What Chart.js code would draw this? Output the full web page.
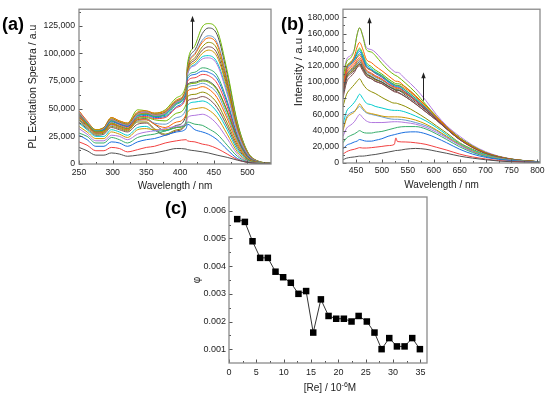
<!DOCTYPE html>
<html><head><meta charset="utf-8">
<script src="https://cdn.jsdelivr.net/npm/chart.js@4.4.1/dist/chart.umd.min.js"></script>
<style>
html,body{margin:0;padding:0;background:#fff;width:550px;height:398px;overflow:hidden;font-family:"Liberation Sans",Arial,sans-serif;}
canvas{position:absolute;left:0;top:0;}
.lbl{position:absolute;font-weight:bold;font-size:18px;line-height:20px;color:#000;}
#cx{position:absolute;left:270px;top:382px;width:120px;font-size:10px;line-height:12px;text-align:center;color:#222;}
#cx sup{font-size:7px;line-height:0;vertical-align:4px;}
#by{position:absolute;left:238px;top:65px;width:120px;font-size:11.5px;line-height:14px;text-align:center;color:#222;transform:rotate(-90deg);transform-origin:60px 7px;}
</style></head><body>
<canvas id="ca" width="550" height="398"></canvas>
<canvas id="cb" width="550" height="398"></canvas>
<canvas id="cc" width="550" height="398"></canvas>
<div class="lbl" style="left:2px;top:14px">(a)</div>
<div class="lbl" style="left:281px;top:14px">(b)</div>
<div class="lbl" style="left:165px;top:198px">(c)</div>
<div id="by">Intensity / a.u</div>
<div id="cx">[Re] / 10<sup>-6</sup>M</div>
<script>
const FONT = "'Liberation Sans', Arial, sans-serif";
const PALETTE = ['#515151','#F14040','#1A6FDF','#37AD6B','#B177DE','#CC9900','#00CBCC','#7D4E4E','#8E8E00','#FB6501','#6699CC','#6FB802'];

// ---------- Panel (a): PL excitation spectra (values in thousands, a.u.) ----------
const A_WAVELENGTH = [250, 262, 275, 287, 298, 310, 322, 337, 350, 362, 378, 395, 409, 411, 422, 433, 442, 455, 470, 485, 500, 515, 535];
const A_SPECTRA = [
  [15, 12, 8, 8, 10, 9, 7, 8, 9, 10, 12, 14, 13.5, 13, 12, 11, 10, 8, 6, 3.5, 1.5, 0.5, 0.3],
  [20, 17, 12, 12, 15, 14, 11, 13, 15, 16, 19, 21, 22, 21, 20, 18, 17, 14, 9, 4, 1.5, 0.5, 0.3],
  [26, 22, 16, 16, 20, 19, 16, 20, 22, 23, 26, 29, 32, 36, 31, 29, 27, 22, 13, 5, 1.5, 0.5, 0.3],
  [28, 25, 19, 19, 24, 22, 19, 24, 26, 27, 30, 33, 35, 38, 36, 35, 32, 27, 17, 7, 2, 0.7, 0.3],
  [32, 27, 21, 21, 26, 25, 22, 27, 29, 30, 32, 34, 36, 42, 44, 45, 43, 36, 23, 9, 2.5, 0.8, 0.3],
  [34, 29, 23, 23, 29, 27, 24, 31, 32, 31, 31, 33, 37, 47, 50, 51, 49, 42, 27, 11, 3, 1, 0.3],
  [37, 31, 25, 25, 31, 29, 26, 33, 34, 30, 30, 33, 38, 53, 56, 57, 55, 47, 31, 13, 3.5, 1, 0.3],
  [38, 32, 26, 27, 33, 31, 29, 36, 37, 31, 26, 30, 37, 57, 59, 61, 59, 51, 34, 15, 4, 1.2, 0.4],
  [40, 33, 27, 28, 34, 32, 30, 38, 38, 32, 27, 31, 38, 61, 63, 65, 63, 55, 37, 17, 4.5, 1.3, 0.4],
  [42, 35, 28, 29, 36, 33, 31, 40, 40, 36, 33, 38, 45, 66, 68, 70, 68, 60, 41, 19, 5, 1.4, 0.4],
  [40, 34, 28, 29, 35, 33, 31, 39, 40, 37, 36, 42, 50, 69, 71, 73, 71, 64, 44, 21, 5.5, 1.5, 0.4],
  [42, 36, 29, 30, 37, 34, 32, 41, 42, 40, 39, 46, 54, 71, 73, 75, 74, 67, 47, 22, 6, 1.6, 0.4],
  [40, 35, 28, 29, 36, 34, 32, 40, 41, 36, 30, 35, 44, 72, 74, 76, 75, 68, 48, 23, 6.5, 1.7, 0.4],
  [44, 36, 29, 30, 37, 35, 33, 42, 43, 41, 42, 51, 61, 75, 78, 81, 80, 73, 52, 24, 7, 1.8, 0.4],
  [42, 36, 29, 31, 38, 36, 34, 42, 44, 42, 43, 52, 63, 77, 81, 84, 83, 77, 55, 25, 7.5, 1.9, 0.5],
  [45, 37, 30, 31, 39, 36, 34, 43, 45, 43, 44, 54, 65, 79, 83, 87, 86, 80, 57, 26, 8, 2, 0.5],
  [47, 38, 30, 32, 40, 37, 35, 45, 47, 44, 46, 56, 66, 81, 89, 95, 96, 90, 63, 29, 9, 2.2, 0.5],
  [46, 38, 31, 32, 40, 37, 35, 45, 46, 44, 46, 56, 67, 82, 92, 100, 103, 97, 68, 31, 9.5, 2.3, 0.6],
  [44, 37, 30, 31, 39, 36, 34, 44, 45, 43, 45, 55, 66, 81, 90, 97, 98, 92, 65, 30, 9, 2.2, 0.5],
  [45, 37, 30, 32, 40, 37, 35, 45, 46, 44, 46, 56, 67, 83, 94, 103, 106, 100, 70, 32, 9.8, 2.4, 0.6],
  [46, 38, 31, 33, 41, 38, 36, 46, 47, 45, 47, 57, 68, 84, 96, 106, 110, 104, 73, 33, 10, 2.5, 0.6],
  [48, 39, 31, 33, 42, 39, 37, 47, 48, 46, 48, 58, 69, 85, 99, 110, 114, 108, 75, 34, 10.5, 2.6, 0.6],
  [45, 37, 30, 32, 40, 38, 36, 46, 47, 45, 47, 57, 68, 86, 100, 112, 116, 110, 77, 35, 10.7, 2.6, 0.6],
  [48, 38, 31, 33, 42, 39, 37, 49, 48, 46, 49, 60, 72, 90, 107, 124, 127, 121, 84, 38, 11.5, 2.8, 0.7],
  [43, 36, 29, 31, 39, 37, 35, 44, 45, 43, 45, 55, 66, 88, 103, 118, 123, 117, 81, 37, 11, 2.7, 0.7]
];
const A_XTICKS = [250, 300, 350, 400, 450, 500];
const A_XMINOR = [275, 325, 375, 425, 475, 525];
const A_YTICKS = [0, 25, 50, 75, 100, 125];
const A_YMINOR = [12.5, 37.5, 62.5, 87.5, 112.5, 137.5];
const A_YLABELS = ['0', '25,000', '50,000', '75,000', '100,000', '125,000'];

// ---------- Panel (b): emission spectra (values in thousands, a.u.) ----------
const B_WAVELENGTH = [425, 432, 440, 447, 452, 457, 463, 470, 480, 487, 500, 512, 524, 527, 530, 545, 565, 585, 605, 625, 650, 675, 700, 725, 750, 775, 805];
const B_SPECTRA = [
  [4, 6, 7, 7.5, 8, 8.5, 8.5, 9, 10, 10.5, 12, 13.5, 15, 15.5, 15.5, 17, 18, 17, 14.5, 12, 8.5, 6, 4, 2.5, 1.5, 1, 0.5],
  [11, 14, 16, 17, 18, 19, 18.5, 18.5, 19, 19.5, 20.5, 21.5, 23, 31, 26.5, 26, 25, 23, 19.5, 16, 11, 7.5, 5, 3, 2, 1.2, 0.6],
  [17, 22, 24, 26, 27, 29, 28, 27, 27, 28, 30, 33, 35, 35.5, 36, 38, 38.5, 36, 31, 25, 17, 11, 7, 4.5, 2.8, 1.6, 0.8],
  [25, 31, 34, 36, 38, 40, 38, 37, 37, 38, 39, 41, 43, 43.5, 44, 45, 45, 42, 36, 29, 20, 13, 8, 5, 3, 1.8, 0.9],
  [33, 43, 47, 51, 56, 60, 56, 52, 50, 50, 50, 50.5, 51, 51, 51, 50, 48, 44, 38, 31, 22, 14, 8.5, 5.5, 3.3, 2, 1],
  [40, 55, 60, 63, 68, 73, 68, 63, 61, 60, 58, 57, 57, 57, 57, 56, 53, 48, 41, 33, 23, 15, 9, 6, 3.5, 2.1, 1],
  [48, 64, 70, 75, 80, 85, 80, 74, 72, 70, 68, 66, 65, 65, 65, 63, 58, 52, 44, 35, 24, 16, 10, 6.2, 3.7, 2.2, 1.1],
  [80, 100, 107, 112, 118, 122, 116, 108, 104, 101, 98, 93, 89, 88.5, 88, 82, 73, 63, 53, 42, 29, 19, 12, 7.5, 4.5, 2.7, 1.3],
  [70, 85, 92, 97, 101, 104, 98, 92, 88, 86, 81, 77, 74, 74, 73.5, 70, 63, 55, 46, 37, 25, 17, 10.5, 6.5, 4, 2.4, 1.2],
  [95, 118, 124, 132, 143, 149, 141, 128, 124, 120, 114, 108, 102, 101, 101, 94, 83, 70, 57, 44, 30, 20, 12.5, 7.8, 4.7, 2.8, 1.4],
  [42, 57, 62, 64, 67, 70, 66, 62, 60, 59, 57, 55, 54, 54, 54, 53, 50, 46, 40, 32, 22, 14.5, 9, 5.8, 3.4, 2, 1],
  [105, 125, 130, 140, 158, 167, 157, 140, 137, 133, 123, 115, 109, 108, 107, 99, 87, 72, 57, 44, 31, 21, 13, 8, 4.8, 2.9, 1.5],
  [88, 108, 114, 118, 122, 125, 119, 111, 107, 104, 100, 95, 91, 90, 90, 84, 75, 65, 54, 42, 29, 19.5, 12, 7.5, 4.5, 2.7, 1.3],
  [92, 112, 118, 122, 127, 130, 124, 115, 111, 108, 104, 98, 94, 93, 93, 87, 77, 66, 55, 43, 30, 20, 12.3, 7.7, 4.6, 2.8, 1.4],
  [95, 116, 122, 128, 134, 138, 131, 120, 115, 111, 106, 100, 95, 94, 94, 88, 78, 67, 55, 43, 30, 20, 12.4, 7.7, 4.6, 2.8, 1.4],
  [96, 117, 123, 127, 131, 135, 129, 119, 115, 112, 108, 102, 97, 96, 96, 90, 80, 68, 56, 44, 30.5, 20.2, 12.6, 7.8, 4.7, 2.8, 1.4],
  [108, 128, 133, 141, 158, 167, 158, 143, 140, 137, 128, 120, 113, 112, 112, 104, 92, 77, 60, 46, 33, 22, 14, 8.5, 5, 3, 1.6],
  [90, 110, 116, 120, 125, 128, 122, 114, 110, 107, 103, 98, 93, 92, 92, 88, 78, 67, 55, 43, 30, 20, 12.4, 7.7, 4.6, 2.8, 1.4],
  [97, 118, 124, 129, 136, 140, 133, 122, 117, 113, 108, 101, 96, 95, 95, 90, 80, 68, 56, 44, 30.5, 20.2, 12.6, 7.8, 4.7, 2.8, 1.4],
  [84, 104, 110, 114, 118, 120, 114, 107, 104, 101, 98, 93, 88, 87.5, 87, 82, 73, 63, 53, 42, 29, 19.2, 12, 7.4, 4.4, 2.7, 1.3],
  [86, 106, 112, 116, 120, 122, 117, 110, 106, 103, 100, 95, 91, 90, 90, 86, 77, 66, 55, 43, 30, 19.8, 12.2, 7.6, 4.5, 2.7, 1.3],
  [94, 114, 120, 125, 130, 133, 127, 118, 114, 111, 107, 101, 97, 96, 96, 92, 82, 70, 57, 45, 31, 20.5, 12.8, 7.9, 4.7, 2.8, 1.4],
  [89, 109, 115, 119, 124, 127, 121, 113, 109, 106, 102, 97, 92, 91, 91, 86, 77, 66, 55, 43, 30, 19.8, 12.3, 7.6, 4.5, 2.7, 1.3],
  [98, 119, 125, 130, 137, 142, 135, 124, 119, 115, 110, 104, 99, 98, 98, 94, 83, 71, 58, 45, 31, 20.7, 12.9, 8, 4.8, 2.9, 1.4],
  [86, 106, 112, 116, 120, 123, 117, 110, 106, 103, 100, 95, 91, 90, 90, 86, 77, 66, 55, 43, 30, 19.8, 12.2, 7.6, 4.5, 2.7, 1.3]
];
const B_XTICKS = [450, 500, 550, 600, 650, 700, 750, 800];
const B_XMINOR = [475, 525, 575, 625, 675, 725, 775];
const B_YTICKS = [0, 20, 40, 60, 80, 100, 120, 140, 160, 180];
const B_YMINOR = [10, 30, 50, 70, 90, 110, 130, 150, 170];
const B_YLABELS = ['0', '20,000', '40,000', '60,000', '80,000', '100,000', '120,000', '140,000', '160,000', '180,000'];

// ---------- Panel (c): phi vs [Re] ----------
const C_RE = [1.5, 2.9, 4.3, 5.7, 7.1, 8.5, 9.9, 11.3, 12.7, 14.1, 15.4, 16.8, 18.2, 19.6, 21.0, 22.4, 23.7, 25.2, 26.6, 27.9, 29.3, 30.7, 32.1, 33.5, 34.9];
const C_PHI = [0.0057, 0.0056, 0.0049, 0.0043, 0.0043, 0.0038, 0.0036, 0.0034, 0.0030, 0.0031, 0.0016, 0.0028, 0.0022, 0.0021, 0.0021, 0.0020, 0.0022, 0.0020, 0.0016, 0.0010, 0.0014, 0.0011, 0.0011, 0.0014, 0.0010];
const C_XTICKS = [0, 5, 10, 15, 20, 25, 30, 35];
const C_XMINOR = [2.5, 7.5, 12.5, 17.5, 22.5, 27.5, 32.5];
const C_YTICKS = [0.001, 0.002, 0.003, 0.004, 0.005, 0.006];
const C_YMINOR = [0.0015, 0.0025, 0.0035, 0.0045, 0.0055];
const C_YLABELS = ['0.001', '0.002', '0.003', '0.004', '0.005', '0.006'];

// arrows (data coordinates)
const A_ARROWS = [{x: 417, y0: 104, y1: 134}];
const B_ARROWS = [{x: 476, y0: 146, y1: 180}, {x: 579, y0: 77, y1: 112}];

const framePlugin = {
  id: 'frame',
  afterDraw(chart, args, o) {
    const {ctx, chartArea: a} = chart;
    const xs = chart.scales.x, ys = chart.scales.y;
    ctx.save();
    ctx.strokeStyle = '#555';
    ctx.lineWidth = 1;
    ctx.beginPath();
    const tx = (arr, len) => arr.forEach(v => { const p = Math.round(xs.getPixelForValue(v)) + 0.5; ctx.moveTo(p, a.bottom); ctx.lineTo(p, a.bottom - len); });
    const ty = (arr, len) => arr.forEach(v => { const p = Math.round(ys.getPixelForValue(v)) + 0.5; ctx.moveTo(a.left, p); ctx.lineTo(a.left + len, p); });
    tx(o.xMajor, 3.5); tx(o.xMinor, 2); ty(o.yMajor, 3.5); ty(o.yMinor, 2);
    ctx.stroke();
    ctx.strokeStyle = '#8a8a8a';
    ctx.lineWidth = 1.3;
    ctx.strokeRect(a.left, a.top, a.right - a.left, a.bottom - a.top);
    (o.arrows || []).forEach(ar => {
      const x = Math.round(xs.getPixelForValue(ar.x)) + 0.5;
      const y0 = ys.getPixelForValue(ar.y0), y1 = ys.getPixelForValue(ar.y1);
      ctx.strokeStyle = '#222'; ctx.lineWidth = 1;
      ctx.beginPath(); ctx.moveTo(x, y0); ctx.lineTo(x, y1 + 4); ctx.stroke();
      ctx.fillStyle = '#222';
      ctx.beginPath(); ctx.moveTo(x, y1); ctx.lineTo(x - 2.2, y1 + 6); ctx.lineTo(x + 2.2, y1 + 6); ctx.closePath(); ctx.fill();
    });
    ctx.restore();
  }
};

function panel(id, datasets, P) {
  return new Chart(document.getElementById(id), {
    type: 'line',
    data: {datasets},
    plugins: [framePlugin],
    options: {
      responsive: false, animation: false, devicePixelRatio: 1, events: [],
      layout: {padding: P.pad},
      plugins: {legend: {display: false}, tooltip: {enabled: false},
        frame: {xMajor: P.xt, xMinor: P.xm, yMajor: P.yt, yMinor: P.ym, arrows: P.arrows}},
      scales: {
        x: {type: 'linear', min: P.xmin, max: P.xmax,
          grid: {display: false, drawTicks: false, tickLength: 0}, border: {display: false},
          afterBuildTicks: s => { s.ticks = P.xt.map(v => ({value: v})); },
          afterFit: s => { s.height = P.xh; },
          ticks: {autoSkip: false, maxRotation: 0, padding: P.xpad, color: '#222', font: {family: FONT, size: P.fs},
            callback: (v, i) => String(P.xt[i])},
          title: P.xtitle ? {display: true, text: P.xtitle, padding: 0, color: '#222', font: {family: FONT, size: 10}} : {display: false}
        },
        y: {type: 'linear', min: P.ymin, max: P.ymax,
          grid: {display: false, drawTicks: false, tickLength: 0}, border: {display: false},
          afterBuildTicks: s => { s.ticks = P.yt.map(v => ({value: v})); },
          afterFit: s => { s.width = P.yw; },
          ticks: {autoSkip: false, padding: P.ypad, color: '#222', font: {family: FONT, size: P.fs},
            callback: (v, i) => P.yl[i]},
          title: P.ytitle ? {display: true, text: P.ytitle, padding: 0, color: '#222', font: {family: FONT, size: P.yts}} : {display: false}
        }
      }
    }
  });
}

const toPts = (xs, ys) => ys.map((v, j) => ({x: xs[j], y: v}));
const spectra = (xs, rows) => rows.map((row, i) => ({
  data: toPts(xs, row), borderColor: PALETTE[i % PALETTE.length], borderWidth: 1,
  pointRadius: 0, fill: false, cubicInterpolationMode: 'monotone'
}));

panel('ca', spectra(A_WAVELENGTH, A_SPECTRA), {
  pad: {left: 27, top: 9, right: 279, bottom: 206},
  xmin: 250, xmax: 535, ymin: 0, ymax: 140,
  xt: A_XTICKS, xm: A_XMINOR, yt: A_YTICKS, ym: A_YMINOR, yl: A_YLABELS,
  xh: 28, yw: 52, xpad: 3, ypad: 4, fs: 8.7,
  xtitle: 'Wavelength / nm', ytitle: 'PL Excitation Spectra / a.u', yts: 10.5, arrows: A_ARROWS
});

panel('cb', spectra(B_WAVELENGTH, B_SPECTRA), {
  pad: {left: 292, top: 5, right: 10, bottom: 207},
  xmin: 425, xmax: 805, ymin: 0, ymax: 190,
  xt: B_XTICKS, xm: B_XMINOR, yt: B_YTICKS, ym: B_YMINOR, yl: B_YLABELS,
  xh: 28, yw: 51, xpad: 2, ypad: 4, fs: 8.7,
  xtitle: 'Wavelength / nm', ytitle: null, yts: 10.5, arrows: B_ARROWS
});

panel('cc', [{
  data: toPts(C_RE, C_PHI), borderColor: '#333', borderWidth: 1, tension: 0,
  pointStyle: 'rect', pointRadius: 4.6, pointBackgroundColor: '#000', pointBorderColor: '#000', pointBorderWidth: 0, fill: false
}], {
  pad: {left: 191, top: 197, right: 123, bottom: 15},
  xmin: 0, xmax: 36.2, ymin: 0.0005, ymax: 0.0065,
  xt: C_XTICKS, xm: C_XMINOR, yt: C_YTICKS, ym: C_YMINOR, yl: C_YLABELS,
  xh: 20, yw: 38, xpad: 4, ypad: 3, fs: 9,
  xtitle: null, ytitle: 'φ', yts: 10, arrows: []
});
</script>
</body></html>
